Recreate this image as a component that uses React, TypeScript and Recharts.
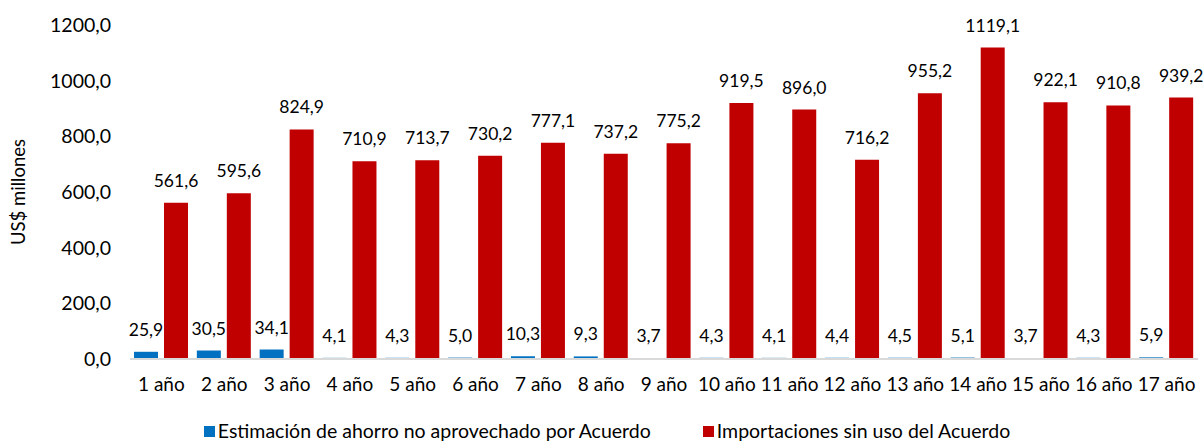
import {
  BarChart,
  Bar,
  XAxis,
  YAxis,
  LabelList,
  Legend,
} from "recharts";

const years = [
  "1 año", "2 año", "3 año", "4 año", "5 año", "6 año", "7 año", "8 año", "9 año",
  "10 año", "11 año", "12 año", "13 año", "14 año", "15 año", "16 año", "17 año",
];

const ahorro = [
  25.9, 30.5, 34.1, 4.1, 4.3, 5.0, 10.3, 9.3, 3.7, 4.3, 4.1, 4.4, 4.5, 5.1, 3.7, 4.3, 5.9,
];

const importaciones = [
  561.6, 595.6, 824.9, 710.9, 713.7, 730.2, 777.1, 737.2, 775.2, 919.5, 896.0, 716.2,
  955.2, 1119.1, 922.1, 910.8, 939.2,
];

const yTicks = [0, 200, 400, 600, 800, 1000, 1200];

const BLUE = "#0070C0";
const RED = "#C00000";
const FONT = "Lato, 'Open Sans', sans-serif";

const data = years.map((year, i) => ({
  year,
  ahorro: ahorro[i],
  importaciones: importaciones[i],
}));

const fmt = (v: number) => v.toFixed(1).replace(".", ",");

const legendItems = [
  { label: "Estimación de ahorro no aprovechado por Acuerdo", color: BLUE },
  { label: "Importaciones sin uso del Acuerdo", color: RED },
];

const ChartLegend = () => (
  <div
    style={{
      display: "flex",
      justifyContent: "center",
      gap: 52,
      fontFamily: FONT,
      fontSize: 19.5,
      lineHeight: "22px",
      color: "#000",
      paddingLeft: 16,
    }}
  >
    {legendItems.map((item) => (
      <div key={item.label} style={{ display: "flex", alignItems: "center" }}>
        <span
          style={{
            display: "inline-block",
            width: 11,
            height: 11,
            background: item.color,
            marginRight: 3,
          }}
        />
        {item.label}
      </div>
    ))}
  </div>
);

const App = () => {
  return (
    <div style={{ position: "absolute", left: 0, top: 0, background: "#fff" }}>
      <BarChart
        width={1204}
        height={443}
        data={data}
        margin={{ top: 25, right: 6, left: 0, bottom: 0 }}
        barSize={24}
        barGap={6}
      >
        <XAxis
          dataKey="year"
          axisLine={{ stroke: "#D9D9D9", strokeWidth: 2 }}
          tickLine={false}
          tickMargin={13}
          height={62}
          interval={0}
          tick={{ fill: "#000", fontSize: 19, fontFamily: FONT }}
        />
        <YAxis
          width={130}
          domain={[0, 1200]}
          ticks={yTicks}
          axisLine={false}
          tickLine={false}
          tickMargin={13}
          tickFormatter={fmt}
          tick={{ fill: "#000", fontSize: 19.5, fontFamily: FONT }}
          label={{
            value: "US$ millones",
            angle: -90,
            position: "insideLeft",
            offset: 18,
            style: { textAnchor: "middle", fill: "#000", fontSize: 18.5, fontFamily: FONT },
          }}
        />
        <Legend
          verticalAlign="bottom"
          content={<ChartLegend />}
          wrapperStyle={{ bottom: 1 }}
        />
        <Bar dataKey="ahorro" fill={BLUE} isAnimationActive={false}>
          <LabelList
            dataKey="ahorro"
            position="top"
            offset={16}
            formatter={(v: number) => fmt(v)}
            style={{ fill: "#000", fontSize: 17.5, fontFamily: FONT }}
          />
        </Bar>
        <Bar dataKey="importaciones" fill={RED} isAnimationActive={false}>
          <LabelList
            dataKey="importaciones"
            position="top"
            offset={16}
            formatter={(v: number) => fmt(v)}
            style={{ fill: "#000", fontSize: 17.5, fontFamily: FONT }}
          />
        </Bar>
      </BarChart>
    </div>
  );
};

export default App;
